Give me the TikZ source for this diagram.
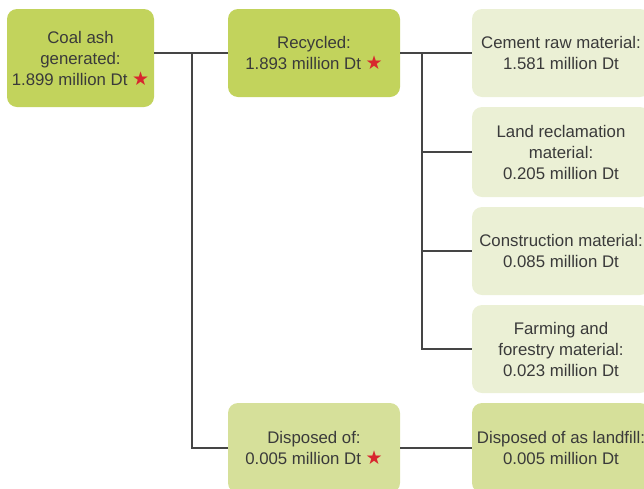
\documentclass[tikz,border=0pt]{standalone}
\usepackage{fontspec}
\setmainfont{Liberation Sans}
\newfontfamily\starfont{DejaVu Sans}
\usetikzlibrary{positioning}

\definecolor{ashgreen}{HTML}{C2D35C}
\definecolor{paleash}{HTML}{D6E09A}
\definecolor{lightash}{HTML}{EBF0D5}
\definecolor{ashtext}{HTML}{3A3A3A}
\definecolor{starred}{HTML}{D8262E}
\definecolor{linkgray}{HTML}{454545}
\newcommand{\redstar}{{\color{starred}\starfont\fontsize{19}{19}\selectfont ★}}

\begin{document}
\begin{tikzpicture}[x=1pt, y=-1pt,
    box/.style={rounded corners=10pt, align=center, text=ashtext, inner sep=0pt,
      font=\fontsize{16.8}{21}\selectfont, minimum width=172pt, minimum height=88pt},
    mainbox/.style={box, fill=ashgreen},
    dispbox/.style={box, fill=paleash},
    usebox/.style={box, fill=lightash, minimum width=178pt},
    link/.style={draw=linkgray, line width=1.1pt}]
    \useasboundingbox (0, 0) rectangle (644, 488);
    \clip (0, 0) rectangle (644, 488);
    % left column
    \node[mainbox, minimum width=147pt, minimum height=98pt] (coal) at (80.5, 58) {Coal ash\\generated:\\1.899 million Dt \redstar};
    % middle column
    \node[mainbox] (recycled) at (314, 53) {Recycled:\\1.893 million Dt \redstar};
    \node[dispbox, minimum height=90pt] (disposed) at (314, 448) {Disposed of:\\0.005 million Dt \redstar};
    % right column
    \node[usebox] (cement) at (561, 53) {Cement raw material:\\1.581 million Dt};
    \node[usebox, minimum height=90pt] (land) at (561, 152) {Land reclamation\\material:\\0.205 million Dt};
    \node[usebox] (construction) at (561, 251) {Construction material:\\0.085 million Dt};
    \node[usebox] (farming) at (561, 349) {Farming and\\forestry material:\\0.023 million Dt};
    \node[usebox, fill=paleash, minimum height=90pt] (landfill) at (561, 448) {Disposed of as landfill:\\0.005 million Dt};
    % connectors
    \coordinate (split1) at (192, 53);
    \coordinate (split2) at (422, 53);
    \draw[link] (coal.east |- recycled.west) -- (recycled.west);
    \draw[link] (split1) |- (disposed.west);
    \draw[link] (recycled.east) -- (cement.west);
    \draw[link] (split2) |- (farming.west);
    \draw[link] (split2 |- land.west) -- (land.west);
    \draw[link] (split2 |- construction.west) -- (construction.west);
    \draw[link] (disposed.east) -- (landfill.west);
\end{tikzpicture}
\end{document}
